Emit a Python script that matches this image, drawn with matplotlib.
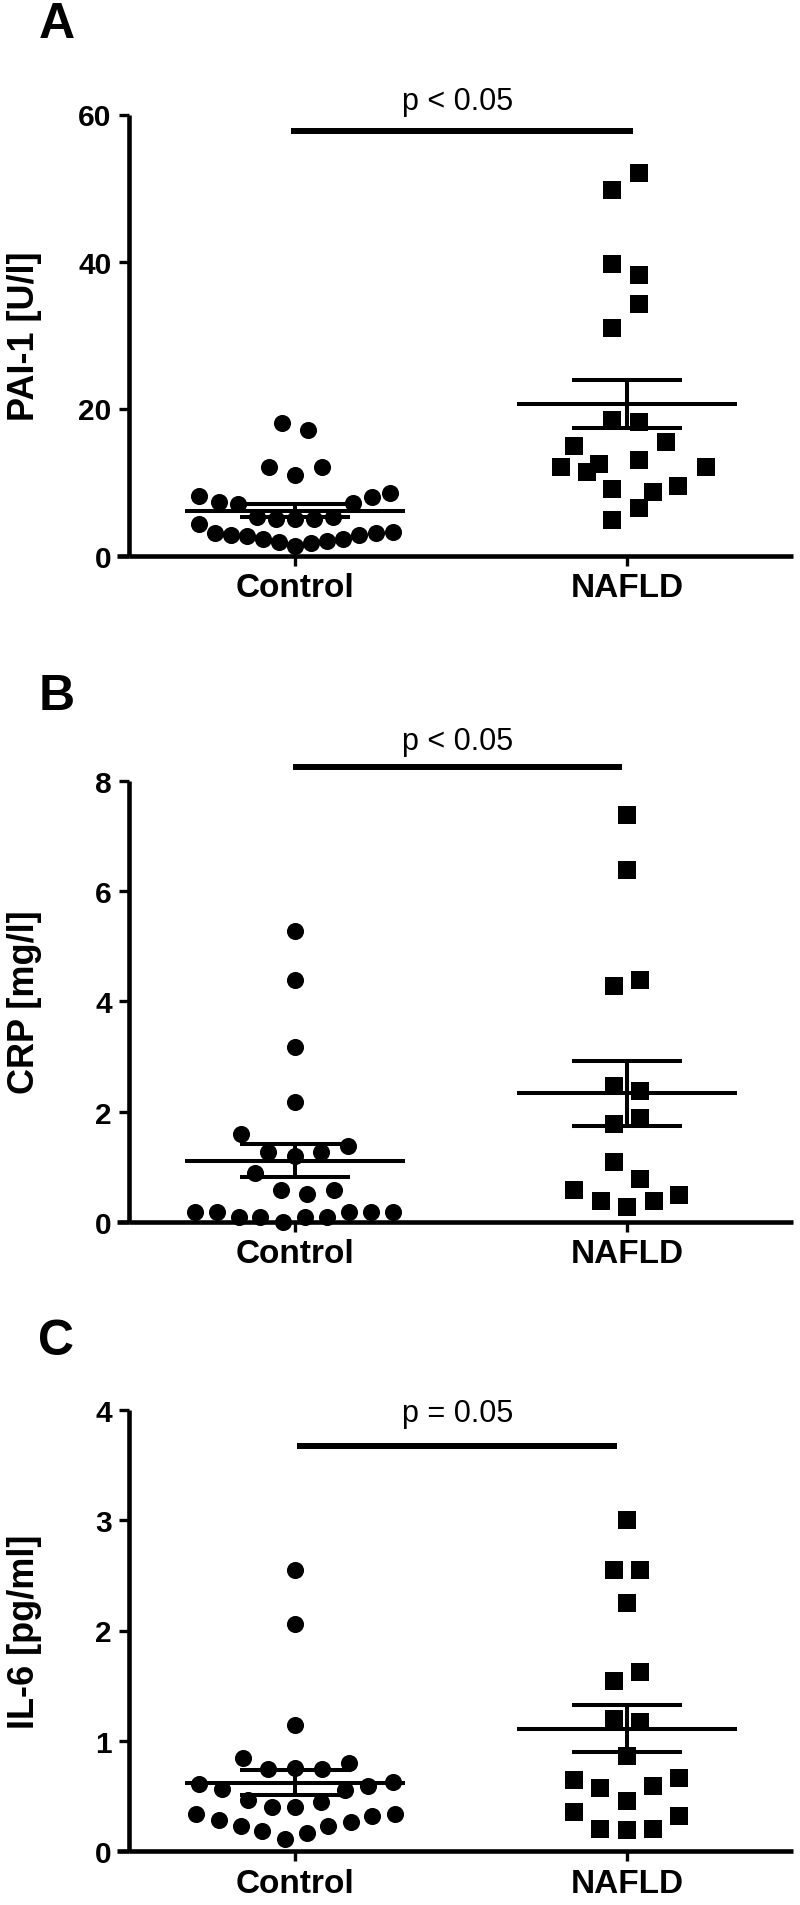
import numpy as np
import matplotlib
matplotlib.use('Agg')
import matplotlib.pyplot as plt

plt.rcParams['font.family'] = ['Liberation Sans', 'DejaVu Sans']

groups = ['Control', 'NAFLD']

# panel A - PAI-1
pai_control = [18.0, 17.1, 12.0, 12.0, 11.0, 8.05, 7.3, 7.0, 7.2, 8.0, 8.45,
               5.3, 5.0, 4.9, 5.0, 5.3, 4.3, 3.07, 2.8, 2.6, 2.25, 1.9, 1.35,
               1.7, 2.0, 2.3, 2.8, 3.0, 3.2]
pai_control_dx = [-0.038, 0.040, -0.078, 0.080, 0.0, -0.288, -0.229, -0.171, 0.174,
                  0.232, 0.286, -0.114, -0.057, 0.0, 0.057, 0.114, -0.288, -0.241,
                  -0.193, -0.144, -0.095, -0.047, 0.0, 0.049, 0.097, 0.145, 0.194,
                  0.245, 0.295]
pai_nafld = [52.1, 49.7, 39.7, 38.2, 34.2, 30.9, 18.5, 18.2, 14.9, 15.4, 13.0,
             12.0, 12.5, 11.4, 12.0, 9.0, 8.6, 9.4, 6.4, 4.8]
pai_nafld_dx = [0.037, -0.045, -0.045, 0.037, 0.037, -0.045, -0.045, 0.037, -0.16,
                0.117, 0.037, -0.20, -0.083, -0.12, 0.237, -0.045, 0.078, 0.155,
                0.037, -0.045]
pai_mean = [6.1, 20.6]
pai_sem = [0.9, 3.3]

# panel B - CRP
crp_control = [5.27, 4.38, 3.17, 2.18, 1.59, 1.38, 1.27, 1.20, 1.27, 0.89, 0.58,
               0.50, 0.58, 0.18, 0.18, 0.09, 0.09, 0.0, 0.09, 0.09, 0.18, 0.18, 0.18]
crp_control_dx = [0, 0, 0, 0, -0.163, 0.159, -0.08, 0, 0.078, -0.12, -0.043, 0.035,
                  0.117, -0.30, -0.236, -0.17, -0.105, -0.036, 0.03, 0.095, 0.164,
                  0.23, 0.295]
crp_nafld = [7.38, 6.38, 4.27, 4.38, 2.47, 2.37, 1.77, 1.88, 1.08, 0.77, 0.57,
             0.37, 0.27, 0.37, 0.48]
crp_nafld_dx = [0, 0, -0.04, 0.04, -0.04, 0.04, -0.04, 0.04, -0.04, 0.04, -0.16,
                -0.077, 0, 0.08, 0.158]
crp_mean = [1.11, 2.33]
crp_sem = [0.30, 0.59]

# panel C - IL-6
il6_control = [2.55, 2.06, 1.14, 0.84, 0.74, 0.75, 0.74, 0.80, 0.61, 0.56, 0.55,
               0.59, 0.63, 0.46, 0.40, 0.40, 0.44, 0.34, 0.28, 0.23, 0.18, 0.11,
               0.16, 0.23, 0.26, 0.32, 0.34]
il6_control_dx = [0, 0, 0, -0.157, -0.08, 0, 0.082, 0.163, -0.29, -0.22, 0.15, 0.22,
                  0.295, -0.143, -0.07, 0, 0.077, -0.297, -0.23, -0.164, -0.098,
                  -0.031, 0.035, 0.10, 0.168, 0.233, 0.30]
il6_nafld = [3.00, 2.55, 2.55, 2.25, 1.62, 1.54, 1.20, 1.17, 0.86, 0.64, 0.57,
             0.59, 0.66, 0.45, 0.35, 0.32, 0.20, 0.19, 0.20]
il6_nafld_dx = [0, -0.038, 0.038, 0, 0.038, -0.038, -0.038, 0.038, 0, -0.16, -0.08,
                0.077, 0.158, 0, -0.16, 0.158, -0.08, 0, 0.077]
il6_mean = [0.62, 1.11]
il6_sem = [0.115, 0.21]

panel_letters = ['A', 'B', 'C']
ylabels = ['PAI-1 [U/l]', 'CRP [mg/l]', 'IL-6 [pg/ml]']
yticks = [[0, 20, 40, 60], [0, 2, 4, 6, 8], [0, 1, 2, 3, 4]]
p_texts = ['p < 0.05', 'p < 0.05', 'p = 0.05']
p_text_y = [61.8, 8.72, 3.97]
sig_y = [57.8, 8.25, 3.67]
sig_x = [(-0.012, 1.017), (-0.006, 0.985), (0.005, 0.97)]

panels = [
    (pai_control, pai_control_dx, pai_nafld, pai_nafld_dx, pai_mean, pai_sem),
    (crp_control, crp_control_dx, crp_nafld, crp_nafld_dx, crp_mean, crp_sem),
    (il6_control, il6_control_dx, il6_nafld, il6_nafld_dx, il6_mean, il6_sem),
]

W, H = 800, 1906
fig = plt.figure(figsize=(W / 100, H / 100), dpi=100)

ax_left = 129 / W
ax_width = 664 / W
ax_height = 441 / H
ax_bottoms = [(H - 556.5) / H, (H - 1222.8) / H, (H - 1852) / H]
letter_y = [1 - 25.5 / H, 1 - 697.5 / H, 1 - 1342.5 / H]

lw_axis = 3.3
lw_stat = 2.9

for k, (ctrl, ctrl_dx, naf, naf_dx, means, sems) in enumerate(panels):
    ax = fig.add_axes([ax_left, ax_bottoms[k], ax_width, ax_height])
    ax.plot(0 + np.array(ctrl_dx), ctrl, 'o', ms=12.3, color='black', mew=0,
            clip_on=False, zorder=3)
    ax.plot(1 + np.array(naf_dx), naf, 's', ms=12.8, color='black', mew=0,
            clip_on=False, zorder=3)

    # mean +/- SEM
    for i, (m, s) in enumerate(zip(means, sems)):
        ax.plot([i - 0.33, i + 0.33], [m, m], color='black', lw=lw_stat,
                solid_capstyle='butt', zorder=4)
        ax.plot([i - 0.165, i + 0.165], [m + s, m + s], color='black', lw=lw_stat,
                solid_capstyle='butt', zorder=4)
        ax.plot([i - 0.165, i + 0.165], [m - s, m - s], color='black', lw=lw_stat,
                solid_capstyle='butt', zorder=4)
        ax.plot([i, i], [m - s, m + s], color='black', lw=lw_stat,
                solid_capstyle='butt', zorder=4)

    # significance bar
    ax.plot(sig_x[k], [sig_y[k], sig_y[k]], color='black', lw=4.3,
            solid_capstyle='butt', clip_on=False)
    ax.text(0.49, p_text_y[k], p_texts[k], ha='center', va='center', fontsize=22)

    ax.set_xlim(-0.5, 1.5)
    ax.set_ylim(yticks[k][0], yticks[k][-1])
    ax.set_xticks([0, 1])
    ax.set_xticklabels(groups, fontsize=24, fontweight='bold')
    ax.set_yticks(yticks[k])
    ax.set_yticklabels([str(t) for t in yticks[k]], fontsize=21.5, fontweight='bold')

    for side in ['top', 'right']:
        ax.spines[side].set_visible(False)
    for side in ['left', 'bottom']:
        ax.spines[side].set_linewidth(lw_axis)
        ax.spines[side].set_capstyle('butt')
    # x axis runs a bit past the y axis, like the original
    ax.plot([-0.535, -0.5], [yticks[k][0], yticks[k][0]], color='black', lw=lw_axis,
            solid_capstyle='butt', clip_on=False)
    ax.tick_params(axis='both', width=2.4, length=7, direction='out')
    ax.tick_params(axis='x', pad=5)
    ax.tick_params(axis='y', pad=5.5)

    ax.text(-0.158, 0.5, ylabels[k], rotation=90, ha='center', va='center',
            fontsize=26, fontweight='bold', transform=ax.transAxes)

    fig.text(56.5 / W, letter_y[k], panel_letters[k], ha='center', va='center',
             fontsize=36, fontweight='bold')

fig.savefig('out.png', dpi=100)
